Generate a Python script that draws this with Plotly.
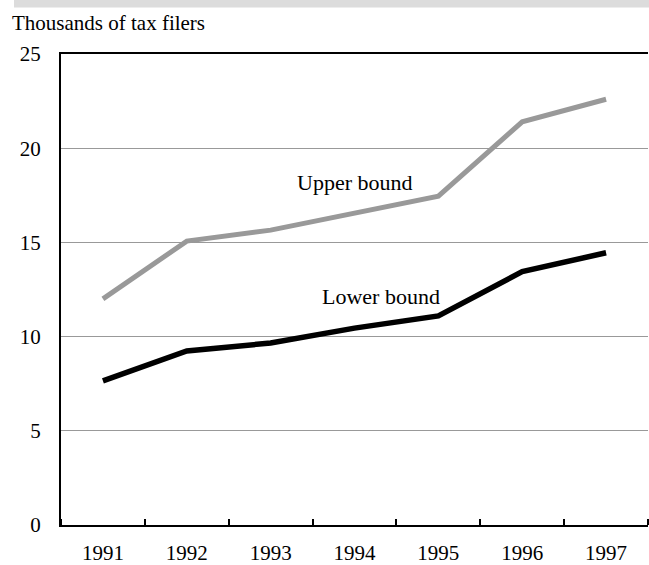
import plotly.graph_objects as go

years = [1991, 1992, 1993, 1994, 1995, 1996, 1997]
upper_bound = [12.0, 15.07, 15.65, 16.55, 17.45, 21.4, 22.6]
lower_bound = [7.65, 9.24, 9.66, 10.45, 11.1, 13.45, 14.45]
y_ticks = [0, 5, 10, 15, 20, 25]

FONT = "Liberation Serif"

fig = go.Figure()
fig.add_trace(go.Scatter(x=years, y=upper_bound, mode="lines",
                         line=dict(color="#999999", width=5), name="Upper bound"))
fig.add_trace(go.Scatter(x=years, y=lower_bound, mode="lines",
                         line=dict(color="#000000", width=5.5), name="Lower bound"))

fig.add_annotation(x=1994.0, y=18.2, text="Upper bound", showarrow=False,
                   font=dict(family=FONT, size=22, color="#000"))
fig.add_annotation(x=1994.31, y=12.15, text="Lower bound", showarrow=False,
                   font=dict(family=FONT, size=22, color="#000"))

W, H = 649, 565
L, R, T, B = 61, 1, 54, 40
pw, ph = W - L - R, H - T - B

fig.add_annotation(xref="paper", yref="paper", x=(10 - L) / pw, y=(525 - 29) / ph,
                   xanchor="left", yanchor="bottom", text="Thousands of tax filers",
                   showarrow=False, yshift=-8,
                   font=dict(family=FONT, size=21, color="#000"))

fig.add_shape(type="rect", xref="paper", yref="paper",
              x0=(14 - L) / pw, x1=(W + 5 - L) / pw,
              y0=(525 - 7.5) / ph, y1=(525 + 5) / ph,
              fillcolor="#dcdcdc", line=dict(width=0), layer="below")

fig.update_layout(
    width=W, height=H,
    margin=dict(l=L, r=R, t=T, b=B, autoexpand=False),
    paper_bgcolor="white", plot_bgcolor="white",
    showlegend=False,
    font=dict(family=FONT, size=21, color="#000"),
    xaxis=dict(range=[1990.5, 1997.5], tickvals=years, ticktext=[str(y) for y in years],
               ticks="", showgrid=False, zeroline=False, automargin=False,
               showline=True, linecolor="#000", linewidth=2, mirror=True,
               ticklabelstandoff=8,
               minor=dict(tick0=1991.5, dtick=1, ticks="inside", ticklen=6,
                          tickwidth=1.5, tickcolor="#000", showgrid=False)),
    yaxis=dict(range=[0, 25], tickvals=y_ticks, ticks="", automargin=False,
               showgrid=True, gridcolor="#999999", gridwidth=1.2, zeroline=False,
               showline=True, linecolor="#000", linewidth=2,
               ticklabelstandoff=14),
)

fig.write_html("out.html", config={"displayModeBar": False},
               post_script="document.body.style.margin='0';document.body.style.overflow='hidden';")
